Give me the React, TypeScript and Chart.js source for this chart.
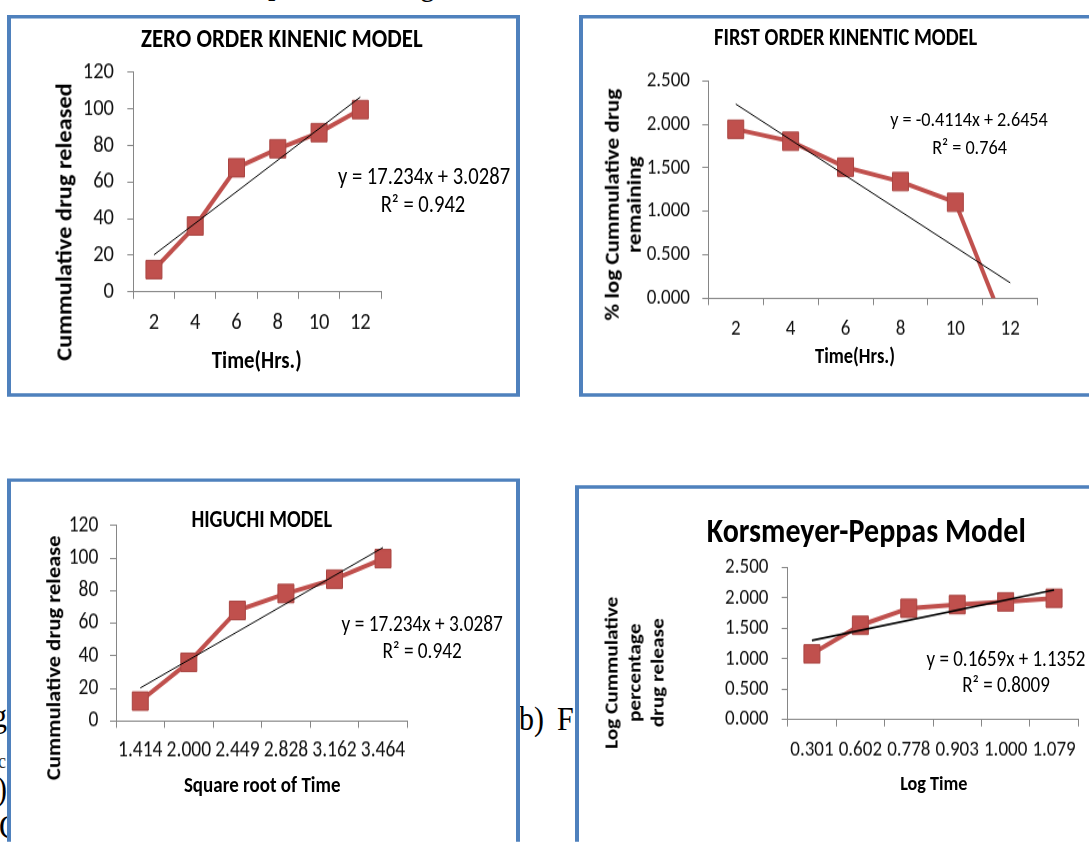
import React, { useEffect, useRef } from "react";
import { Chart, registerables } from "chart.js";

Chart.register(...registerables);

// ---------------- data ----------------
const hourLabels = ["2", "4", "6", "8", "10", "12"];
const sqrtTimeLabels = ["1.414", "2.000", "2.449", "2.828", "3.162", "3.464"];
const logTimeLabels = ["0.301", "0.602", "0.778", "0.903", "1.000", "1.079"];

const cumulativeReleased = [12.2, 36.0, 67.8, 78.2, 87.0, 99.6];
const logRemaining = [1.944, 1.806, 1.508, 1.342, 1.104, -0.484];
const logCumulativeReleased = [1.08, 1.55, 1.83, 1.89, 1.935, 1.995];

// regression lines shown on the charts: slope, intercept, R²
const zeroOrderFit = [17.234, 3.0287, 0.942];
const firstOrderFit = [-0.4114, 2.6454, 0.764];
const higuchiFit = [17.234, 3.0287, 0.942];
const peppasFit = [0.1659, 1.1352, 0.8009];

// y-axis ranges: min, max, step
const percentAxis = [0, 120, 20];
const logAxis = [0, 2.5, 0.5];

// ---------------- styles / layout ----------------
const S = 1.15; // vertical stretch of the original picture
const FONT = "Carlito, Calibri, Lato, sans-serif";
const SERIF = "'Liberation Serif', 'Times New Roman', serif";
const RED = "#C0504D";
const RED_EDGE = "#A94441";
const BLUE = "#4F81BD";
const AXIS = "#868686";
const BORDER = 4;

type Layout = { box: number[]; plot: number[]; yGap: number; xLabelY: number; tick: number; trendWidth: number };
const layoutZero: Layout = { box: [7, 14.5, 513, 382.2], plot: [133.3, 381, 72.3, 292], yGap: 19.3, xLabelY: 323.3, tick: 20.5, trendWidth: 1 };
const layoutFirst: Layout = { box: [579, 14.5, 530, 382.2], plot: [708.3, 1037.7, 81, 298.3], yGap: 18.3, xLabelY: 329.3, tick: 19, trendWidth: 1 };
const layoutHiguchi: Layout = { box: [7, 478.3, 513, 420], plot: [116, 407.3, 525.7, 720.7], yGap: 17.7, xLabelY: 750, tick: 19.5, trendWidth: 1 };
const layoutPeppas: Layout = { box: [575, 485.7, 530, 420], plot: [787.7, 1078.3, 567.3, 719.3], yGap: 19.3, xLabelY: 749.3, tick: 19, trendWidth: 1.7 };

function trendValues(fit: number[], n: number) {
  const arr: (number | null)[] = new Array(n).fill(null);
  arr[0] = fit[0] * 1 + fit[1];
  arr[n - 1] = fit[0] * n + fit[1];
  return arr;
}

function equation(fit: number[]) {
  return `y = ${fit[0]}x + ${fit[1]}`;
}
function rSquared(fit: number[]) {
  return `R² = ${fit[2]}`;
}

type PanelProps = {
  layout: Layout;
  labels: string[];
  values: number[];
  fit: number[];
  axis: number[];
  decimals: number;
};

function ChartPanel({ layout, labels, values, fit, axis, decimals }: PanelProps) {
  const ref = useRef<HTMLCanvasElement>(null);
  const [bx, by, bw, bh] = layout.box;
  const cx = bx + BORDER;
  const cyPage = by + BORDER;
  const cw = bw - 2 * BORDER;
  const ch = (bh - 2 * BORDER) / S;

  useEffect(() => {
    const [pl, pr, pt, pb] = layout.plot;
    const plotL = pl - cx;
    const plotR = pr - cx;
    const plotT = (pt - cyPage) / S;
    const plotB = (pb - cyPage) / S;
    const TL = 6;
    const PADL = 2;
    const PADB = 2;
    const lh = layout.tick * 1.2;
    const xPad = (layout.xLabelY - pb) / S - TL - lh / 2;
    const yPad = layout.yGap - TL;
    const yWidth = plotL - PADL;
    const xHeight = ch - PADB - plotB;
    const tickFont = { family: FONT, size: layout.tick };

    const chart = new Chart(ref.current as HTMLCanvasElement, {
      type: "line",
      data: {
        labels,
        datasets: [
          {
            data: values,
            borderColor: RED,
            backgroundColor: RED,
            borderWidth: 4,
            pointStyle: "rect",
            pointRadius: 11.3,
            pointBackgroundColor: RED,
            pointBorderColor: RED_EDGE,
            pointBorderWidth: 1,
            tension: 0,
            order: 1,
          },
          {
            data: trendValues(fit, labels.length),
            borderColor: "#000",
            borderWidth: layout.trendWidth,
            pointRadius: 0,
            spanGaps: true,
            tension: 0,
            order: 0,
          },
        ],
      },
      options: {
        animation: false,
        responsive: true,
        maintainAspectRatio: false,
        layout: { padding: { left: PADL, top: plotT, right: cw - plotR, bottom: PADB } },
        plugins: {
          legend: { display: false },
          tooltip: { enabled: false },
          title: { display: false },
        },
        scales: {
          x: {
            type: "category",
            offset: true,
            grid: { offset: true, drawOnChartArea: false, drawTicks: true, tickLength: TL, color: AXIS },
            border: { display: true, color: AXIS, width: 1 },
            ticks: { autoSkip: false, maxRotation: 0, minRotation: 0, font: tickFont, color: "#111", padding: xPad },
            afterFit: (s: any) => {
              s.height = xHeight;
            },
          },
          y: {
            type: "linear",
            min: axis[0],
            max: axis[1],
            grid: { drawOnChartArea: false, drawTicks: true, tickLength: TL, color: AXIS },
            border: { display: true, color: AXIS, width: 1 },
            ticks: {
              stepSize: axis[2],
              font: tickFont,
              color: "#111",
              padding: yPad,
              callback: (v: any) => Number(v).toFixed(decimals),
            },
            afterFit: (s: any) => {
              s.width = yWidth;
            },
          },
        },
      },
    } as any);
    return () => chart.destroy();
  }, []);

  return (
    <>
      <div
        style={{
          position: "absolute",
          left: bx,
          top: by / S,
          width: bw,
          height: bh / S,
          boxSizing: "border-box",
          borderStyle: "solid",
          borderColor: BLUE,
          borderWidth: `${BORDER / S}px ${BORDER}px`,
          background: "#fff",
        }}
      />
      <div style={{ position: "absolute", left: cx, top: cyPage / S, width: cw, height: ch }}>
        <canvas ref={ref} />
      </div>
    </>
  );
}

type LabelProps = {
  x: number;
  y: number;
  size: number;
  bold?: boolean;
  rotate?: boolean;
  lh?: number;
  children: React.ReactNode;
};

function Label({ x, y, size, bold, rotate, lh, children }: LabelProps) {
  return (
    <div
      style={{
        position: "absolute",
        left: x,
        top: y / S,
        transform: `translate(-50%, -50%)${rotate ? " rotate(-90deg)" : ""}`,
        fontFamily: FONT,
        fontSize: size,
        fontWeight: bold ? 700 : 400,
        lineHeight: lh ? `${lh}px` : 1,
        whiteSpace: "nowrap",
        textAlign: "center",
        color: "#000",
      }}
    >
      {children}
    </div>
  );
}

function Fragment({ text, left, baseline, size, color }: { text: string; left: number; baseline: number; size: number; color?: string }) {
  return (
    <div
      style={{
        position: "absolute",
        left,
        top: baseline / S - 0.8375 * size,
        fontFamily: SERIF,
        fontSize: size,
        lineHeight: 1,
        whiteSpace: "nowrap",
        color: color || "#000",
      }}
    >
      {text}
    </div>
  );
}

export default function App() {
  return (
    <div
      style={{
        position: "fixed",
        left: 0,
        top: 0,
        width: 1089,
        height: 842 / S,
        overflow: "hidden",
        background: "#fff",
        transform: `scaleY(${S})`,
        transformOrigin: "0 0",
      }}
    >
      {/* stray text of the surrounding document */}
      <Fragment text="p" left={268} baseline={-6} size={30} />
      <Fragment text="g" left={420} baseline={-5} size={30} />
      <Fragment text="b)" left={519} baseline={730} size={30} />
      <Fragment text="F" left={557} baseline={730} size={30} />
      <Fragment text="g" left={-8} baseline={727} size={30} />
      <Fragment text="c" left={-2} baseline={768} size={18} color="#333" />
      <Fragment text=")" left={-3} baseline={800} size={30} />
      <Fragment text="C" left={-1} baseline={838} size={30} />

      <ChartPanel layout={layoutZero} labels={hourLabels} values={cumulativeReleased} fit={zeroOrderFit} axis={percentAxis} decimals={0} />
      <ChartPanel layout={layoutFirst} labels={hourLabels} values={logRemaining} fit={firstOrderFit} axis={logAxis} decimals={3} />
      <ChartPanel layout={layoutHiguchi} labels={sqrtTimeLabels} values={cumulativeReleased} fit={higuchiFit} axis={percentAxis} decimals={0} />
      <ChartPanel layout={layoutPeppas} labels={logTimeLabels} values={logCumulativeReleased} fit={peppasFit} axis={logAxis} decimals={3} />

      {/* Zero order */}
      <Label x={281.8} y={37.5} size={22.9} bold>ZERO ORDER KINENIC MODEL</Label>
      <Label x={65} y={221.7} size={21.2} bold rotate>Cummulative drug released</Label>
      <Label x={256.7} y={360} size={20.8} bold>Time(Hrs.)</Label>
      <Label x={424} y={175.7} size={20.6}>{equation(zeroOrderFit)}</Label>
      <Label x={423} y={205} size={20.6}>{rSquared(zeroOrderFit)}</Label>

      {/* First order */}
      <Label x={845.7} y={37.3} size={20.5} bold>FIRST ORDER KINENTIC MODEL</Label>
      <Label x={622.9} y={205} size={20} bold rotate lh={22.3}>
        % log Cummulative drug
        <br />
        remaining
      </Label>
      <Label x={855} y={356.7} size={18.5} bold>Time(Hrs.)</Label>
      <Label x={969} y={120} size={18.2}>{equation(firstOrderFit)}</Label>
      <Label x={969.5} y={147.3} size={18.2}>{rSquared(firstOrderFit)}</Label>

      {/* Higuchi */}
      <Label x={261.7} y={518.3} size={20.3} bold>HIGUCHI MODEL</Label>
      <Label x={53.8} y={658.3} size={19.6} bold rotate>Cummulative drug release</Label>
      <Label x={262.2} y={784.3} size={19} bold>Square root of Time</Label>
      <Label x={422.2} y={623.3} size={19.3}>{equation(higuchiFit)}</Label>
      <Label x={422.2} y={650.7} size={19.3}>{rSquared(higuchiFit)}</Label>

      {/* Korsmeyer-Peppas */}
      <Label x={866.3} y={530} size={30} bold>Korsmeyer-Peppas Model</Label>
      <Label x={633.7} y={672.3} size={18.5} bold rotate lh={23}>
        Log Cummulative
        <br />
        percentage
        <br />
        drug release
      </Label>
      <Label x={933.8} y={783.3} size={18.2} bold>Log Time</Label>
      <Label x={1006} y={659} size={19}>{equation(peppasFit)}</Label>
      <Label x={1006} y={684.3} size={19}>{rSquared(peppasFit)}</Label>
    </div>
  );
}
